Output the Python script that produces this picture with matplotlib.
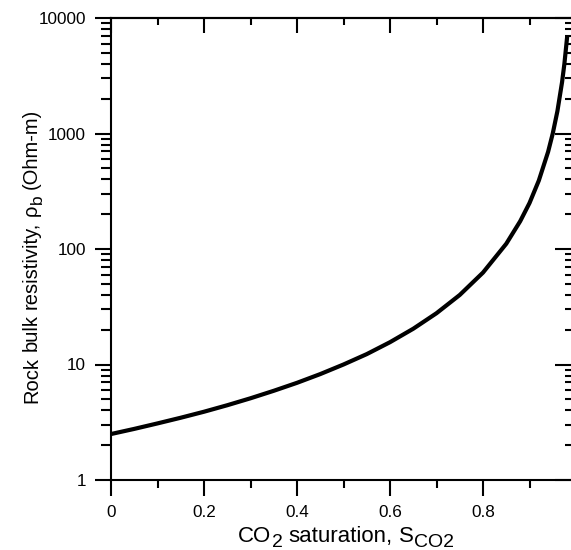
import matplotlib
matplotlib.use("Agg")
import matplotlib.pyplot as plt
from matplotlib.ticker import FixedLocator, NullFormatter
from matplotlib.transforms import IdentityTransform

# data
saturation = [0.0, 0.05, 0.10, 0.15, 0.20, 0.25, 0.30, 0.35, 0.40, 0.45, 0.50,
              0.55, 0.60, 0.65, 0.70, 0.75, 0.80, 0.85, 0.88, 0.90, 0.92,
              0.94, 0.95, 0.96, 0.97, 0.975, 0.981]
resistivity = [2.5, 2.77, 3.09, 3.46, 3.9, 4.44, 5.1, 5.92, 6.94, 8.26, 10.0,
               12.3, 15.6, 20.4, 27.8, 40.0, 62.5, 111, 174, 250, 391,
               694, 1000, 1560, 2780, 4000, 6900]

x_ticks = [0, 0.2, 0.4, 0.6, 0.8, 1.0]
x_tick_labels = ["0", "0.2", "0.4", "0.6", "0.8", "1"]
x_minor = [0.1, 0.3, 0.5, 0.7, 0.9]
y_ticks = [1, 10, 100, 1000, 10000]
y_tick_labels = ["1", "10", "100", "1000", "10000"]

# label pieces: (text, is_subscript, space_before)
x_label_parts = [("CO", False, False), ("2", True, False),
                 ("saturation,", False, True), ("S", False, True), ("CO2", True, False)]
y_label_parts = [("Rock", False, False), ("bulk", False, True),
                 ("resistivity,", False, True), ("\u03c1", False, True), ("b", True, False),
                 ("(Ohm-m)", False, True)]

plt.rcParams['font.family'] = ['Liberation Sans', 'DejaVu Sans']

W, H = 571, 550
fig = plt.figure(figsize=(W / 100, H / 100), dpi=100)
x0, x1 = 111, 576
y0, y1 = 480, 18
ax = fig.add_axes([x0 / W, (H - y0) / H, (x1 - x0) / W, (y0 - y1) / H])

ax.plot(saturation, resistivity, color='black', lw=3.0, solid_capstyle='butt')
ax.set_yscale('log')
ax.set_xlim(0, 1)
ax.set_ylim(1, 10000)

lw = 1.5
for s in ax.spines.values():
    s.set_linewidth(lw)

y_minor = [m * 10 ** e for e in range(0, 4) for m in range(2, 10)]

ax.xaxis.set_major_locator(FixedLocator(x_ticks))
ax.set_xticklabels(x_tick_labels)
ax.xaxis.set_minor_locator(FixedLocator(x_minor))
ax.yaxis.set_major_locator(FixedLocator(y_ticks))
ax.set_yticklabels(y_tick_labels)
ax.yaxis.set_minor_locator(FixedLocator(y_minor))
ax.yaxis.set_minor_formatter(NullFormatter())

tick_fs = 12.3
ax.tick_params(axis='x', which='major', direction='out', length=11.5, width=lw,
               labelsize=tick_fs, pad=6.5, top=False)
ax.tick_params(axis='x', which='minor', direction='out', length=5.8, width=lw, top=False)
ax.tick_params(axis='y', which='major', direction='out', length=11.5, width=lw,
               labelsize=tick_fs, pad=6.5, right=False)
ax.tick_params(axis='y', which='minor', direction='out', length=7.2, width=lw, right=False)

axt = ax.secondary_xaxis('top')
axt.xaxis.set_major_locator(FixedLocator(x_ticks))
axt.xaxis.set_minor_locator(FixedLocator(x_minor))
axt.tick_params(which='major', direction='in', length=10.8, width=lw, labeltop=False)
axt.tick_params(which='minor', direction='in', length=5.0, width=lw)
axt.spines['top'].set_linewidth(lw)

axr = ax.secondary_yaxis('right')
axr.yaxis.set_major_locator(FixedLocator(y_ticks))
axr.yaxis.set_minor_locator(FixedLocator(y_minor))
axr.tick_params(which='major', direction='in', length=15, width=lw, labelright=False)
axr.tick_params(which='minor', direction='in', length=8, width=lw)
axr.spines['right'].set_linewidth(lw)

renderer = fig.canvas.get_renderer()


def text_width(s, fs):
    t = fig.text(0, 0, s, fontsize=fs, transform=IdentityTransform())
    w = t.get_window_extent(renderer).width
    t.remove()
    return w


def layout(parts, main_fs, sub_fs):
    out = []
    pos = 0.0
    space = text_width("a a", main_fs) - text_width("aa", main_fs)
    for s, sub, sp in parts:
        fs = sub_fs if sub else main_fs
        if sp:
            pos += space
        out.append((s, fs, sub, pos))
        pos += text_width(s, fs)
    return out, pos


# x label (horizontal), baseline at y=542 px from top, centred at x=346
parts, total = layout(x_label_parts, 16, 14)
start = 346 - total / 2
base = H - 542
for s, fs, sub, pos in parts:
    fig.text(start + pos, base - (5 if sub else 0), s, fontsize=fs,
             ha='left', va='baseline', transform=IdentityTransform())

# y label (rotated), baseline at x=37 px, centred at y=256 px from top
parts, total = layout(y_label_parts, 14.5, 12.5)
start = (H - 256) - total / 2
base = 37
for s, fs, sub, pos in parts:
    fig.text(base + (4.5 if sub else 0), start + pos, s, fontsize=fs,
             rotation=90, rotation_mode='anchor',
             ha='left', va='baseline', transform=IdentityTransform())

fig.savefig('out.png', dpi=100)
